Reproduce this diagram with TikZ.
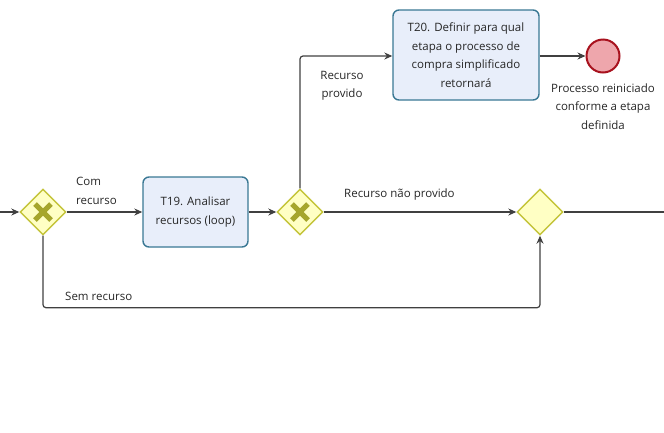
\documentclass[tikz,border=0pt]{standalone}
\usepackage{fontspec}
\setmainfont{Open Sans}
\usetikzlibrary{shapes.geometric,arrows.meta}

\definecolor{gwfill}{HTML}{FFFFC4}
\definecolor{gwline}{HTML}{C4C43A}
\definecolor{gwmark}{HTML}{A6A62C}
\definecolor{taskfill}{HTML}{E8EEFA}
\definecolor{taskline}{HTML}{3A7894}
\definecolor{endfill}{HTML}{EEA6AC}
\definecolor{endline}{HTML}{A8121E}
\definecolor{flowline}{HTML}{404040}
\definecolor{txt}{HTML}{262626}

\begin{document}
\begin{tikzpicture}[x=1pt, y=-1pt,
    font=\fontsize{11.5}{18.5}\selectfont, text=txt,
    flow/.style={draw=flowline, line width=1.2pt, -{Stealth[length=8pt,width=7pt]}},
    gateway/.style={diamond, draw=gwline, fill=gwfill, line width=1.4pt,
      minimum width=46pt, minimum height=46pt, inner sep=0pt},
    gwx/.style={gateway, path picture={
      \draw[gwmark, line width=5pt]
        ([shift={(-8pt,-8pt)}]path picture bounding box.center) --
        ([shift={(8pt,8pt)}]path picture bounding box.center)
        ([shift={(-8pt,8pt)}]path picture bounding box.center) --
        ([shift={(8pt,-8pt)}]path picture bounding box.center);}},
    task/.style={rectangle, rounded corners=6pt, draw=taskline, fill=taskfill,
      line width=1.4pt, align=center, inner sep=2pt},
    endevent/.style={circle, draw=endline, fill=endfill, line width=2pt,
      minimum size=33pt, inner sep=0pt},
    lbl/.style={align=center, inner sep=0pt}]
  \useasboundingbox (0,0) rectangle (664,432);

  % entrada e saida do trecho
  \coordinate (in) at (0,212);
  \coordinate (out) at (664,212);

  % gateways
  \node[gwx] (g1) at (43,212) {};
  \node[gwx] (g2) at (300,212) {};
  \node[gateway] (g3) at (540,212) {};

  % tarefas
  \node[task, minimum width=105pt, minimum height=70pt] (t19) at (195.5,212)
    {T19. Analisar\\recursos (loop)};
  \node[task, minimum width=146pt, minimum height=90pt] (t20) at (466,55)
    {T20. Definir para qual\\etapa o processo de\\compra simplificado\\retornará};

  % evento de fim
  \node[endevent] (end) at (603,56) {};
  \node[lbl, below=10pt] (lend) at (end.south) {Processo reiniciado\\conforme a etapa\\definida};

  % fluxos
  \draw[flow] (in) -- (g1);
  \draw[flow] (g1) -- (t19);
  \draw[flow] (t19) -- (g2);
  \draw[flow, rounded corners=3pt] (g2.north) |- (t20.west |- end);
  \draw[flow] (t20.east |- end) -- (end);
  \draw[flow] (g2) -- (g3);
  \draw[flow, rounded corners=3pt] (g1.south) -- ++(0,72) -| (g3.south);
  \draw[draw=flowline, line width=1.2pt] (g3) -- (out);

  % rotulos dos fluxos
  \node[lbl, align=left, anchor=west] (lcom) at (76,191) {Com\\recurso};
  \node[lbl] (lprov) at (342,86) {Recurso\\provido};
  \node[lbl, anchor=west] (lnprov) at (344,195) {Recurso não provido};
  \node[lbl, anchor=west] (lsem) at (65,296) {Sem recurso};
\end{tikzpicture}
\end{document}
